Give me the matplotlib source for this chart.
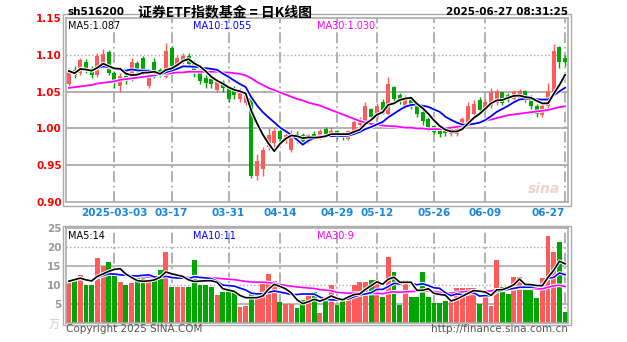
import numpy as np
import pandas as pd
import matplotlib
matplotlib.use("Agg")
import matplotlib.pyplot as plt
import matplotlib.patheffects as pe
from matplotlib.patches import Rectangle

plt.rcParams['font.family'] = ['DejaVu Sans', 'Noto Sans CJK SC']

# daily K data, sh516200 (88 trading days, 2025-02-19 .. 2025-06-27)
opens = [1.060, 1.078, 1.075, 1.090, 1.080, 1.072, 1.085, 1.103, 1.075, 1.058,
         1.070, 1.066, 1.088, 1.095, 1.058, 1.090, 1.078, 1.070, 1.108, 1.085,
         1.092, 1.097, 1.090, 1.078, 1.068, 1.066, 1.052, 1.062, 1.055, 1.052,
         1.040, 1.035, 1.040, 0.935, 0.945, 0.975, 0.980, 0.995, 0.985, 0.970,
         0.992, 0.990, 0.983, 0.992, 0.988, 0.998, 0.990, 0.995, 0.992, 0.986,
         0.995, 1.005, 1.008, 1.025, 1.015, 1.035, 1.020, 1.055, 1.045, 1.030,
         1.038, 1.030, 1.022, 1.012, 1.002, 0.998, 0.996, 0.993, 0.992, 1.000,
         1.008, 1.020, 1.038, 1.025, 1.030, 1.035, 1.048, 1.045, 1.040, 1.040,
         1.050, 1.042, 1.030, 1.018, 1.030, 1.050, 1.110, 1.095]
closes = [1.078, 1.072, 1.092, 1.078, 1.072, 1.098, 1.100, 1.075, 1.062, 1.070,
          1.065, 1.090, 1.078, 1.075, 1.072, 1.070, 1.075, 1.105, 1.085, 1.095,
          1.098, 1.088, 1.075, 1.065, 1.062, 1.060, 1.062, 1.055, 1.040, 1.045,
          1.050, 1.048, 0.935, 0.955, 0.970, 0.990, 0.995, 0.985, 0.990, 0.992,
          0.985, 0.982, 0.990, 0.988, 0.995, 0.992, 0.996, 0.990, 0.988, 0.995,
          1.008, 1.010, 1.030, 1.015, 1.030, 1.025, 1.060, 1.040, 1.038, 1.040,
          1.030, 1.020, 1.010, 1.000, 0.995, 0.992, 0.994, 0.998, 1.000, 1.012,
          1.030, 1.032, 1.025, 1.035, 1.048, 1.050, 1.035, 1.040, 1.048, 1.050,
          1.040, 1.030, 1.020, 1.030, 1.050, 1.105, 1.090, 1.090]
highs = [1.082, 1.085, 1.095, 1.094, 1.085, 1.103, 1.108, 1.106, 1.078, 1.075,
         1.074, 1.096, 1.092, 1.098, 1.075, 1.095, 1.082, 1.116, 1.112, 1.100,
         1.103, 1.102, 1.093, 1.082, 1.072, 1.070, 1.066, 1.066, 1.058, 1.058,
         1.055, 1.052, 1.040, 0.965, 0.975, 1.000, 1.000, 1.000, 0.995, 0.998,
         0.996, 0.994, 0.993, 0.996, 0.999, 1.002, 1.002, 0.998, 0.995, 0.998,
         1.012, 1.015, 1.036, 1.028, 1.035, 1.040, 1.070, 1.058, 1.048, 1.045,
         1.042, 1.033, 1.025, 1.015, 1.005, 1.000, 0.999, 1.002, 1.004, 1.016,
         1.036, 1.038, 1.042, 1.040, 1.055, 1.054, 1.050, 1.048, 1.052, 1.054,
         1.052, 1.045, 1.033, 1.033, 1.062, 1.115, 1.112, 1.100]
lows = [1.058, 1.068, 1.072, 1.075, 1.068, 1.070, 1.082, 1.072, 1.055, 1.050,
        1.060, 1.064, 1.074, 1.072, 1.055, 1.068, 1.070, 1.068, 1.082, 1.082,
        1.088, 1.085, 1.070, 1.060, 1.055, 1.055, 1.050, 1.050, 1.036, 1.040,
        1.036, 1.032, 0.932, 0.930, 0.935, 0.970, 0.975, 0.982, 0.980, 0.968,
        0.980, 0.978, 0.980, 0.985, 0.985, 0.988, 0.988, 0.986, 0.984, 0.984,
        0.993, 1.002, 1.003, 1.012, 1.012, 1.020, 1.015, 1.035, 1.033, 1.028,
        1.026, 1.016, 1.005, 0.996, 0.992, 0.988, 0.990, 0.990, 0.990, 0.998,
        1.006, 1.018, 1.022, 1.022, 1.028, 1.032, 1.032, 1.036, 1.038, 1.038,
        1.036, 1.026, 1.016, 1.015, 1.028, 1.048, 1.082, 1.085]
# MA30 (needs history before the window)
ma30 = [1.055, 1.056, 1.057, 1.058, 1.059, 1.061, 1.062, 1.063, 1.064, 1.066,
        1.067, 1.068, 1.069, 1.070, 1.071, 1.072, 1.073, 1.074, 1.075, 1.076,
        1.076, 1.077, 1.077, 1.077, 1.077, 1.077, 1.077, 1.076, 1.076, 1.075,
        1.074, 1.072, 1.068, 1.063, 1.059, 1.055, 1.052, 1.049, 1.046, 1.043,
        1.040, 1.038, 1.035, 1.033, 1.031, 1.028, 1.025, 1.022, 1.019, 1.016,
        1.013, 1.010, 1.008, 1.006, 1.005, 1.004, 1.003, 1.003, 1.002, 1.001,
        1.001, 1.000, 1.000, 0.999, 0.999, 0.999, 1.000, 1.001, 1.002, 1.004,
        1.005, 1.007, 1.009, 1.011, 1.012, 1.014, 1.016, 1.018, 1.019, 1.020,
        1.021, 1.022, 1.023, 1.024, 1.025, 1.027, 1.029, 1.030]
volumes = [11.0, 11.8, 12.6, 10.0, 10.0, 17.0, 15.0, 16.0, 12.6, 10.8,
           10.0, 10.5, 11.8, 11.8, 11.3, 11.3, 14.0, 18.7, 9.5, 9.5,
           9.5, 9.5, 16.6, 10.0, 10.0, 9.5, 7.4, 8.2, 8.2, 8.2,
           4.2, 4.5, 8.2, 8.2, 10.5, 13.0, 11.0, 5.5, 5.0, 5.0,
           4.0, 6.0, 8.0, 8.2, 2.6, 6.8, 10.0, 4.8, 6.3, 6.3,
           10.0, 10.8, 10.8, 11.3, 11.3, 6.8, 17.4, 13.4, 4.7, 11.3,
           6.8, 6.8, 13.4, 6.8, 5.3, 5.3, 5.8, 5.8, 9.2, 9.2,
           9.2, 9.2, 5.0, 8.2, 4.6, 16.6, 9.5, 7.7, 12.0, 12.0,
           9.5, 9.3, 6.5, 11.8, 23.0, 18.7, 21.3, 3.0]

tick_idx = [8, 18, 28, 37, 47, 54, 64, 73, 87]
tick_labels = ['2025-03-03', '03-17', '03-31', '04-14', '04-29', '05-12',
               '05-26', '06-09', '06-27']
price_ticks = [0.90, 0.95, 1.00, 1.05, 1.10, 1.15]
vol_ticks = [5, 10, 15, 20, 25]

RED = '#ff5b5b'
GREEN = '#00a600'
GRID = '#aaaaaa'

x = np.arange(len(closes))
o = np.array(opens); c = np.array(closes)
h = np.array(highs); l = np.array(lows)
up = c >= o
colors = np.where(up, RED, GREEN)
ma5 = pd.Series(closes).rolling(5, min_periods=1).mean()
ma10 = pd.Series(closes).rolling(10, min_periods=1).mean()
vma5 = pd.Series(volumes).rolling(5, min_periods=1).mean()
vma10 = pd.Series(volumes).rolling(10, min_periods=1).mean()
vma30 = pd.Series(volumes).rolling(30, min_periods=1).mean()

W, H = 627, 342
fig = plt.figure(figsize=(W / 100, H / 100), dpi=100)
ax = fig.add_axes([66 / W, (H - 202) / H, (568 - 66) / W, (202 - 18) / H])
axv = fig.add_axes([66 / W, (H - 323) / H, (568 - 66) / W, (323 - 228) / H])

halo = [pe.Stroke(linewidth=2.6, foreground='white'), pe.Normal()]


def frame(a):
    for s in a.spines.values():
        s.set_color(GRID)
        s.set_linewidth(1.2)
    a.add_patch(Rectangle((-0.006, -0.02), 1.012, 1.04, transform=a.transAxes,
                          fill=False, ec=GRID, lw=1.0, clip_on=False))
    a.set_xlim(-0.5, len(closes) - 0.5)
    for t in tick_idx:
        a.axvline(t, color=GRID, lw=1.3, ls=(0, (6, 2, 1, 2)), zorder=0)
    a.tick_params(length=0)


# ---- price panel
frame(ax)
ax.set_ylim(0.90, 1.15)
for yv in price_ticks[1:-1]:
    ax.axhline(yv, color=GRID, lw=1.3 if yv != 1.10 else 1.0,
               ls='-' if yv != 1.10 else ':', zorder=0)
ax.vlines(x, l, h, color=colors, lw=1.0, zorder=2)
ax.bar(x, np.abs(c - o) + 0.0008, bottom=np.minimum(o, c), width=0.7,
       color=colors, zorder=3)
ax.plot(x, ma30, color='#ff00ff', lw=1.3, zorder=4, path_effects=halo)
ax.plot(x, ma10, color='#0000ff', lw=1.3, zorder=5, path_effects=halo)
ax.plot(x, ma5, color='black', lw=1.3, zorder=6, path_effects=halo)
ax.set_yticks(price_ticks)
ax.set_yticklabels([f'{v:.2f}' for v in price_ticks], color='red',
                   fontsize=7.5, fontweight='bold')
ax.set_xticks(tick_idx)
ax.set_xticklabels(tick_labels, color='#1a86d8', fontsize=7.5, fontweight='bold')
ax.get_xticklabels()[-1].set_ha('right')
ax.tick_params(axis='x', pad=4)
ax.tick_params(axis='y', pad=3)
ax.text(0.004, 0.985, 'MA5:1.087', transform=ax.transAxes, va='top',
        fontsize=7, color='black')
ax.text(0.252, 0.985, 'MA10:1.055', transform=ax.transAxes, va='top',
        fontsize=7, color='#0000ff')
ax.text(0.5, 0.985, 'MA30:1.030', transform=ax.transAxes, va='top',
        fontsize=7, color='#ff00ff')
ax.text(0.985, 0.03, 'sina', transform=ax.transAxes, ha='right', va='bottom',
        fontsize=10, style='italic', fontweight='bold', color='#f2d0d0')

# ---- volume panel
frame(axv)
axv.set_ylim(0, 25)
for yv in vol_ticks[:-1]:
    axv.axhline(yv, color=GRID, lw=1.2 if yv in (5, 15) else 1.0,
                ls='-' if yv in (5, 15) else ':', zorder=0)
axv.bar(x, volumes, width=0.85, color=colors, zorder=2)
axv.plot(x, vma30, color='#ff00ff', lw=1.2, zorder=3, path_effects=halo)
axv.plot(x, vma10, color='#0000ff', lw=1.2, zorder=4, path_effects=halo)
axv.plot(x, vma5, color='black', lw=1.2, zorder=5, path_effects=halo)
axv.set_yticks(vol_ticks)
axv.set_yticklabels([str(v) for v in vol_ticks], color='#999999', fontsize=7.5,
                    fontweight='bold')
axv.set_xticks([])
axv.text(0.004, 0.965, 'MA5:14', transform=axv.transAxes, va='top',
         fontsize=7, color='black')
axv.text(0.252, 0.965, 'MA10:11', transform=axv.transAxes, va='top',
         fontsize=7, color='#0000ff')
axv.text(0.5, 0.965, 'MA30:9', transform=axv.transAxes, va='top',
         fontsize=7, color='#ff00ff')

# ---- header / footer texts
fig.text(67 / W, 1 - 12 / H, 'sh516200', fontsize=7.5, fontweight='bold',
         va='center', color='black')
fig.text(225 / W, 1 - 12 / H, '证券ETF指数基金 = 日K线图', fontsize=10,
         fontweight='bold', va='center', ha='center',
         family=['Noto Sans CJK SC', 'DejaVu Sans'])
fig.text(568 / W, 1 - 12 / H, '2025-06-27 08:31:25', fontsize=7.5,
         fontweight='bold', va='center', ha='right')
fig.text(60 / W, 1 - 325 / H, '万', fontsize=8, va='center', ha='right',
         color='#cccccc', family=['Noto Sans CJK SC', 'DejaVu Sans'])
fig.text(66 / W, 1 - 329 / H, 'Copyright 2025 SINA.COM', fontsize=7.5,
         va='center', color='#555555')
fig.text(568 / W, 1 - 329 / H, 'http://finance.sina.com.cn', fontsize=7.5,
         va='center', ha='right', color='#555555')

fig.savefig('out.png', dpi=100, facecolor='white')
